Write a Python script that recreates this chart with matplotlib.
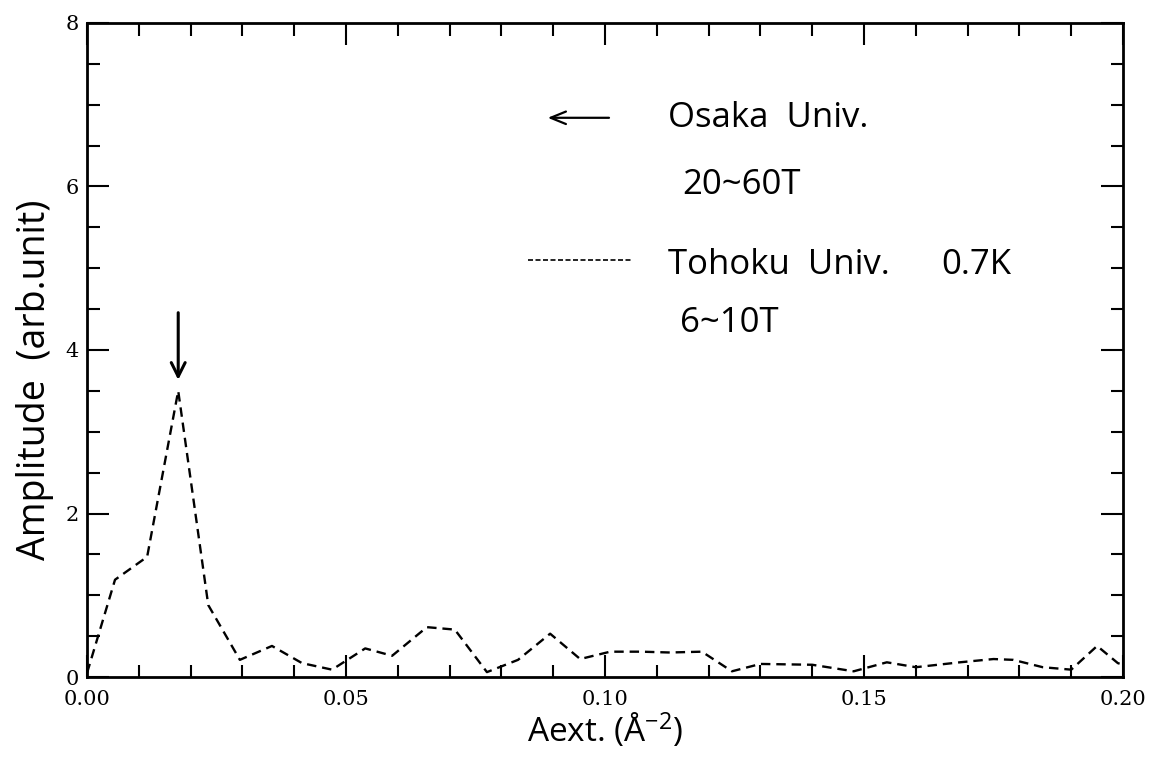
import matplotlib
matplotlib.use("Agg")
import matplotlib.pyplot as plt
from matplotlib.ticker import MultipleLocator, FormatStrFormatter

# Tohoku Univ. spectrum, 0.7K, 6-10T
aext = [0.0, 0.0054, 0.0116, 0.0176, 0.0234, 0.0295, 0.0357, 0.0415, 0.0473,
        0.0537, 0.0589, 0.0656, 0.0710, 0.0772, 0.0832, 0.0894, 0.0952,
        0.1010, 0.1070, 0.1125, 0.1187, 0.1245, 0.1300, 0.1400, 0.1480,
        0.1544, 0.1600, 0.1685, 0.1750, 0.1788, 0.1845, 0.1900, 0.1950,
        0.1990, 0.2000]
amp = [0.05, 1.19, 1.47, 3.50, 0.88, 0.21, 0.38, 0.17, 0.09,
       0.35, 0.26, 0.61, 0.58, 0.06, 0.21, 0.53, 0.22,
       0.31, 0.31, 0.30, 0.31, 0.07, 0.16, 0.15, 0.07,
       0.18, 0.12, 0.18, 0.22, 0.21, 0.12, 0.09, 0.38,
       0.17, 0.15]

peak_x = 0.0176
peak_arrow = (4.49, 3.6)

label_font = "Open Sans"
tick_font = "DejaVu Serif"

fig = plt.figure(figsize=(11.53, 7.65), dpi=100)
ax = fig.add_axes([0.0755, 0.115, 0.8985, 0.855])

ax.plot(aext, amp, color="black", lw=1.7, linestyle=(0, (4, 2.5)))

ax.set_xlim(0, 0.2)
ax.set_ylim(0, 8)
ax.xaxis.set_major_locator(MultipleLocator(0.05))
ax.xaxis.set_minor_locator(MultipleLocator(0.01))
ax.yaxis.set_major_locator(MultipleLocator(2))
ax.yaxis.set_minor_locator(MultipleLocator(0.5))
ax.xaxis.set_major_formatter(FormatStrFormatter("%.2f"))
ax.tick_params(which="both", direction="in", top=True, right=True, width=1.5)
ax.tick_params(which="major", length=16, labelsize=15)
ax.tick_params(axis="x", which="major", pad=9)
ax.tick_params(axis="y", which="major", pad=6)
ax.tick_params(which="minor", length=9)
for lab in ax.get_xticklabels() + ax.get_yticklabels():
    lab.set_fontfamily(tick_font)
for s in ax.spines.values():
    s.set_linewidth(2)

ax.set_xlabel(r"Aext. ($\mathregular{\AA^{-2}}$)", fontsize=24, family=label_font, labelpad=2)
ax.set_ylabel("Amplitude  (arb.unit)", fontsize=27, family=label_font)
ax.yaxis.set_label_coords(-0.032, 0.454)

# arrow marking the peak
ax.annotate("", xy=(peak_x, peak_arrow[1]), xytext=(peak_x, peak_arrow[0]),
            arrowprops=dict(arrowstyle="->,head_length=1.0,head_width=0.5", lw=2.2, color="black"))

# key
ax.annotate("", xy=(0.0884, 6.84), xytext=(0.1013, 6.84),
            arrowprops=dict(arrowstyle="->,head_length=1.1,head_width=0.45", lw=1.6, color="black"))
ax.text(0.1122, 6.84, "Osaka  Univ.", fontsize=25, family=label_font, va="center")
ax.text(0.1150, 6.02, "20~60T", fontsize=25, family=label_font, va="center")
ax.plot([0.0851, 0.1052], [5.10, 5.10], color="black", lw=1.2, linestyle=(0, (3, 1.5)))
ax.text(0.1122, 5.04, "Tohoku  Univ.", fontsize=25, family=label_font, va="center")
ax.text(0.1650, 5.04, "0.7K", fontsize=25, family=label_font, va="center")
ax.text(0.1145, 4.33, "6~10T", fontsize=25, family=label_font, va="center")

fig.savefig("out.png", dpi=100)
